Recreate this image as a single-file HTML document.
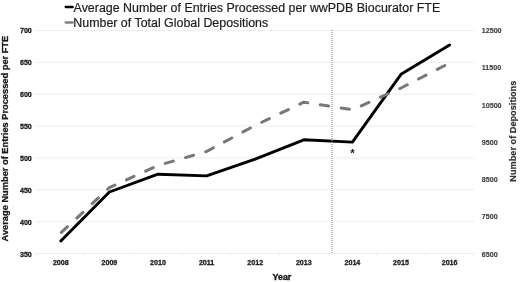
<!DOCTYPE html>
<html><head><meta charset="utf-8">
<style>
html,body{margin:0;padding:0;background:#fff;}
body{width:520px;height:282px;overflow:hidden;}
svg{display:block;filter:grayscale(1) blur(0.35px);}
text{font-family:"Liberation Sans",sans-serif;}
.t{font-size:7.1px;font-weight:bold;fill:#1c1c1c;stroke:#1c1c1c;stroke-width:0.3px;}
.r{font-size:7.1px;font-weight:bold;fill:#404040;stroke:#404040;stroke-width:0.15px;}
.lg{font-size:12.42px;fill:#1e1e1e;stroke:#1e1e1e;stroke-width:0.2px;}
.ax{font-size:9.2px;font-weight:bold;fill:#1a1a1a;stroke:#1a1a1a;stroke-width:0.3px;}
</style></head>
<body>
<svg width="520" height="282" viewBox="0 0 520 282">
<rect width="520" height="282" fill="#fff"/>
<!-- gridlines -->
<g fill="#ededed">
<rect x="35" y="30.00" width="439.5" height="1"/>
<rect x="35" y="61.86" width="439.5" height="1"/>
<rect x="35" y="93.71" width="439.5" height="1"/>
<rect x="35" y="125.57" width="439.5" height="1"/>
<rect x="35" y="157.43" width="439.5" height="1"/>
<rect x="35" y="189.29" width="439.5" height="1"/>
<rect x="35" y="221.14" width="439.5" height="1"/>
<rect x="35" y="253.00" width="439.5" height="1"/>
</g>
<!-- x ticks -->
<g fill="#f0f0f0">
<rect x="36" y="253" width="1" height="3"/>
<rect x="84" y="253" width="1" height="3"/>
<rect x="133" y="253" width="1" height="3"/>
<rect x="182" y="253" width="1" height="3"/>
<rect x="230" y="253" width="1" height="3"/>
<rect x="279" y="253" width="1" height="3"/>
<rect x="328" y="253" width="1" height="3"/>
<rect x="376" y="253" width="1" height="3"/>
<rect x="425" y="253" width="1" height="3"/>
<rect x="473" y="253" width="1" height="3"/>
</g>
<!-- left tick labels -->
<g class="t" text-anchor="end">
<text x="31.8" y="33">700</text>
<text x="31.8" y="65">650</text>
<text x="31.8" y="96.5">600</text>
<text x="31.8" y="128.5">550</text>
<text x="31.8" y="160.5">500</text>
<text x="31.8" y="192.5">450</text>
<text x="31.8" y="224.5">400</text>
<text x="31.8" y="256.5">350</text>
</g>
<!-- right tick labels -->
<g class="r">
<text x="481.8" y="33.2">12500</text>
<text x="481.8" y="70">11500</text>
<text x="481.8" y="107.5">10500</text>
<text x="481.8" y="145">9500</text>
<text x="481.8" y="182">8500</text>
<text x="481.8" y="219">7500</text>
<text x="481.8" y="256.5">6500</text>
</g>
<!-- x labels -->
<g class="t" text-anchor="middle">
<text x="60.8" y="265">2008</text>
<text x="109.4" y="265">2009</text>
<text x="158" y="265">2010</text>
<text x="206.6" y="265">2011</text>
<text x="255.2" y="265">2012</text>
<text x="303.8" y="265">2013</text>
<text x="352.4" y="265">2014</text>
<text x="401" y="265">2015</text>
<text x="449.6" y="265">2016</text>
</g>
<!-- axis titles -->
<text class="ax" x="0" y="0" text-anchor="middle" transform="translate(8.2,138.6) rotate(-90)" style="font-size:9.28px">Average Number of Entries Processed per FTE</text>
<text class="ax" x="0" y="0" text-anchor="middle" transform="translate(516.1,131.2) rotate(-90)" style="fill:#333;stroke:#333;stroke-width:0.2px">Number of Depositions</text>
<text class="ax" x="281.9" y="279.9" text-anchor="middle" style="font-size:8.9px;stroke-width:0.4px">Year</text>
<!-- black series -->
<polyline fill="none" stroke="#000" stroke-width="2.9" stroke-linejoin="round" stroke-linecap="round"
 points="60.8,240.9 109.4,192 158,174.2 206.6,175.9 255.2,159.2 303.8,139.8 352.4,142.1 401,74.3 449.6,44.9"/>
<!-- gray dashed series -->
<polyline fill="none" stroke="#787878" stroke-width="3" stroke-linejoin="round" stroke-linecap="round" stroke-dasharray="8.4 12.7" stroke-dashoffset="-0.8"
 points="60.8,233 109.4,187.6 158,165.5 206.6,151.5 255.2,125.4 303.8,102.2 352.4,109.8 401,88 449.6,63"/>
<!-- dotted vertical -->
<line x1="332" y1="30" x2="332" y2="254" stroke="#9c9c9c" stroke-width="1.25" stroke-dasharray="1 1"/>
<!-- asterisk -->
<text x="352.6" y="156.6" text-anchor="middle" style="font-size:11.5px;font-weight:bold;fill:#1a1a1a">*</text>
<!-- legend -->
<rect x="64.6" y="5.7" width="9.2" height="2.6" rx="1.2" fill="#000"/>
<rect x="64.6" y="21.2" width="9.2" height="2.6" rx="1.2" fill="#808080"/>
<text class="lg" x="73.6" y="11.95">Average Number of Entries Processed per wwPDB Biocurator FTE</text>
<text class="lg" x="73.3" y="27.2">Number of Total Global Depositions</text>
</svg>
</body></html>
